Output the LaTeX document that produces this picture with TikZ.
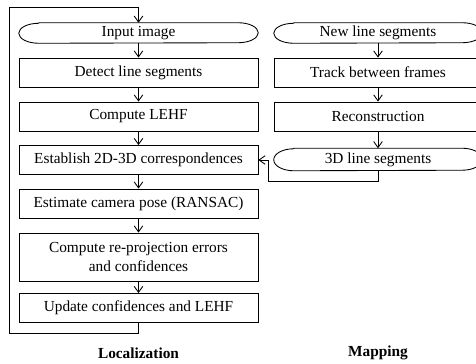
\documentclass[tikz,border=0pt]{standalone}
\usepackage{fontspec}
\setmainfont{Liberation Serif}
\usetikzlibrary{arrows.meta}

\begin{document}
\begin{tikzpicture}[x=0.75pt,y=0.75pt,
  font=\fontsize{11.5}{14.25}\selectfont,
  box/.style={draw,line width=0.65pt,minimum width=179.25pt,minimum height=21.75pt,inner sep=0pt,align=center},
  mbox/.style={box,minimum width=156pt},
  term/.style={minimum width=179.25pt,minimum height=15pt,inner sep=0pt},
  mterm/.style={term,minimum width=156pt},
  flow/.style={line width=0.65pt,-{Straight Barb[length=4.5pt,width=6.5pt]}},
  caption/.style={font=\fontsize{11.5}{14}\selectfont\bfseries}]
\useasboundingbox (0,0) rectangle (476,-364);
% localization
\node[term] (inp) at (138.5,-33) {Input image};
\node[box] (detect) at (138.5,-72.5) {Detect line segments};
\node[box] (lehf) at (138.5,-116.5) {Compute LEHF};
\node[box] (corr) at (138.5,-160) {Establish 2D-3D correspondences};
\node[box] (pose) at (138.5,-203.5) {Estimate camera pose (RANSAC)};
\node[box,minimum height=36pt] (reproj) at (138.5,-257) {Compute re-projection errors\\and confidences};
\node[box] (upd) at (138.5,-308) {Update confidences and LEHF};
% mapping
\node[mterm] (newseg) at (378,-33) {New line segments};
\node[mbox] (track) at (378,-72.5) {Track between frames};
\node[mbox] (recon) at (378,-116.5) {Reconstruction};
\node[mterm,minimum height=16.5pt] (seg3d) at (378,-159.5) {3D line segments};
% outlines of the terminals
\foreach \n/\r in {inp/7.5pt,newseg/7.5pt,seg3d/8.25pt}
  \draw[line width=0.65pt] ([xshift=15pt]\n.north west) -- ([xshift=-15pt]\n.north east)
    arc[start angle=90,end angle=-90,x radius=15pt,y radius=\r]
    -- ([xshift=15pt]\n.south west)
    arc[start angle=270,end angle=90,x radius=15pt,y radius=\r]
    -- cycle;
\draw[flow] (inp) -- (detect);
\draw[flow] (detect) -- (lehf);
\draw[flow] (lehf) -- (corr);
\draw[flow] (corr) -- (pose);
\draw[flow] (pose) -- (reproj);
\draw[flow] (reproj) -- (upd);
\draw[flow] (newseg) -- (track);
\draw[flow] (track) -- (recon);
\draw[flow] (recon) -- (seg3d);
% loops
\coordinate (loopbl) at (9,-333);
\coordinate (looptl) at (9,-7);
\draw[flow] (upd.south) |- (loopbl) -- (looptl) -| (inp.north);
\coordinate (ret) at (268,-181);
\draw[flow] (seg3d.south) |- (ret) |- (corr.east);
\node[caption] (loc) at (138.5,-353) {Localization};
\node[caption] (map) at (378,-353) {Mapping};
\end{tikzpicture}
\end{document}
